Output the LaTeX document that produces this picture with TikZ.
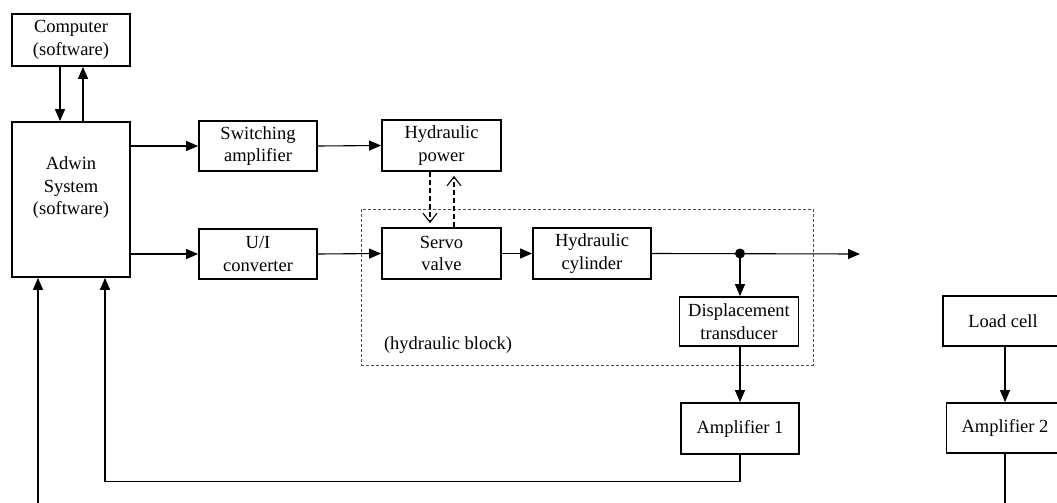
\documentclass[tikz,border=0pt]{standalone}
\usepackage{fontspec}
\setmainfont{Liberation Serif}
\usetikzlibrary{arrows.meta}
\begin{document}
\begin{tikzpicture}[x=1pt,y=-1pt,
  box/.style={draw, line width=1.8pt, minimum width=118pt, minimum height=50pt, inner sep=0pt, align=center, font=\fontsize{18.5}{22.5}\selectfont},
  conn/.style={line width=1.1pt, -{Triangle[length=12pt,width=10pt]}},
  dconn/.style={line width=1.1pt, dash pattern=on 5pt off 3pt, -{Straight Barb[length=9pt,width=14pt]}, shorten >=4pt},
  hblock/.style={draw=black!70, line width=0.7pt, dash pattern=on 3pt off 2pt, inner sep=0pt},
  lbl/.style={font=\fontsize{18.5}{22.5}\selectfont, align=center},
  dot/.style={circle, fill, inner sep=0pt, minimum size=10pt}]
\clip (0,0) rectangle (1057,503);
% hydraulic block
\node[hblock, minimum width=452pt, minimum height=156pt] (hb) at (587,287) {};
\node[lbl] (hbl) at (448,345) {(hydraulic block)};
% boxes
\node[box, minimum height=52pt] (comp) at (71,40) {Computer\\(software)};
\node[box, minimum height=155pt] (adwin) at (71,199.5) {};
\node[lbl] (adwintxt) at (71,188) {Adwin\\System\\(software)};
\node[box] (sw) at (258,146) {Switching\\amplifier};
\node[box] (ui) at (258,254) {U/I\\converter};
\node[box, minimum width=119pt, minimum height=51pt] (hp) at (441.5,145.5) {Hydraulic\\power};
\node[box, minimum width=119pt, minimum height=51pt] (servo) at (441.5,253.5) {Servo\\valve};
\node[box, minimum height=51pt] (cyl) at (592,253.5) {Hydraulic\\cylinder};
\node[box, minimum width=119pt, minimum height=49pt] (disp) at (739,321.5) {Displacement\\transducer};
\node[box, minimum height=51pt] (amp1) at (740,428.5) {Amplifier 1};
\node[box, minimum width=120pt] (load) at (1003,321) {Load cell};
\node[box, minimum width=117pt] (amp2) at (1005,428) {Amplifier 2};
\coordinate (out) at (860,254);
\coordinate (in1) at (38,512);
\coordinate (out2) at (1005,512);
% connectors
\draw[conn] ([xshift=-11pt]comp.south) -- ([xshift=-11pt]adwin.north);
\draw[conn] ([xshift=12pt]adwin.north) -- ([xshift=12pt]comp.south);
\draw[conn] (adwin.east |- sw.west) -- (sw.west);
\draw[conn] (adwin.east |- ui.west) -- (ui.west);
\draw[conn] (sw.east) -- (hp.west);
\draw[conn] (ui.east) -- (servo.west);
\draw[conn] (servo.east) -- (cyl.west);
\draw[conn] (cyl.east) -- (out);
\node[dot] (j) at (amp1.north |- cyl.east) {};
\draw[conn] (j.center) -- (j.center |- disp.north);
\draw[conn] (disp.south -| amp1.north) -- (amp1.north);
\draw[conn] (amp1.south) -- ++(0,27) -| ([xshift=34pt]adwin.south);
\draw[conn] (in1) -- (in1 |- adwin.south);
\draw[dconn] ([xshift=-11.5pt]hp.south) -- ([xshift=-11.5pt]servo.north);
\draw[dconn] ([xshift=12.5pt]servo.north) -- ([xshift=12.5pt]hp.south);
\draw[conn] (load.south -| amp2.north) -- (amp2.north);
\draw[line width=1.1pt] (amp2.south) -- (out2);
\end{tikzpicture}
\end{document}
